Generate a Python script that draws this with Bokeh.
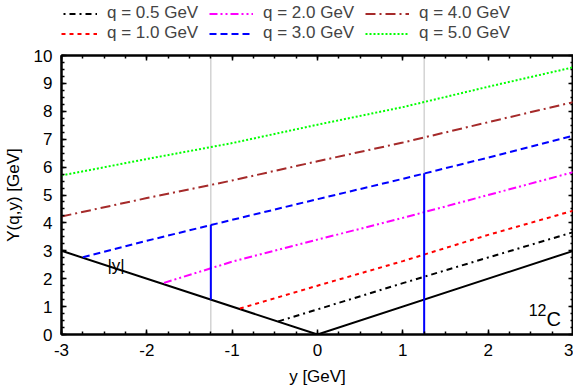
from bokeh.plotting import figure
from bokeh.layouts import column
from bokeh.models import (Legend, LegendItem, LinearAxis, SingleIntervalTicker, Span, PrintfTickFormatter, Range1d)
from bokeh.core.properties import value
from bokeh.embed import file_html
from bokeh.resources import INLINE

# ---------------- data ----------------
q_labels = ["q = 0.5 GeV", "q = 1.0 GeV", "q = 2.0 GeV", "q = 3.0 GeV", "q = 4.0 GeV", "q = 5.0 GeV"]

y_q05 = [-0.46, 0.0, 1.0, 2.0, 3.0]
Y_q05 = [0.47, 0.90, 1.84, 2.76, 3.67]

y_q10 = [-0.91, 0.0, 1.0, 2.0, 3.0]
Y_q10 = [0.93, 1.75, 2.63, 3.57, 4.44]

y_q20 = [-1.8, -1.0, 0.0, 1.0, 2.0, 3.0]
Y_q20 = [1.85, 2.61, 3.40, 4.18, 5.00, 5.82]

y_q30 = [-2.75, -2.0, -1.0, 0.0, 1.0, 2.0, 3.0]
Y_q30 = [2.77, 3.36, 4.11, 4.85, 5.58, 6.34, 7.13]

y_q40 = [-3.0, -2.0, -1.0, 0.0, 1.0, 2.0, 3.0]
Y_q40 = [4.23, 4.89, 5.52, 6.21, 6.88, 7.61, 8.33]

y_q50 = [-3.0, -2.0, -1.0, 0.0, 1.0, 2.0, 3.0]
Y_q50 = [5.70, 6.29, 6.86, 7.52, 8.15, 8.88, 9.58]

abs_y = [-3.0, 0.0, 3.0]
abs_Y = [3.0, 0.0, 3.0]

marker_y = [-1.25, 1.25]
bar_y = [-1.25, 1.25]
bar_Y0 = [1.25, 0.0]
bar_Y1 = [3.93, 5.78]

# ---------------- styling ----------------
FONT = "Liberation Sans"
FS = "17px"
colors = ["black", "#ff0000", "#ff00ff", "#0000ff", "#a52a2a", "#00ff00"]
dashes = ["6 4 2 4", "4 4", "8 3 2 3 2 3", "7 4", "10 4 2 4", "2 2"]

p = figure(width=573, height=342, x_range=(-3, 3), y_range=(0, 10),
           output_backend="svg", toolbar_location=None,
           min_border_left=54, min_border_right=0, min_border_top=9, min_border_bottom=54)
p.grid.visible = False
p.outline_line_color = "black"
p.outline_line_width = 2

for ax in (p.xaxis[0], p.yaxis[0]):
    ax.major_tick_in = 5
    ax.major_tick_out = 0
    ax.minor_tick_in = 3
    ax.minor_tick_out = 0
    ax.axis_line_width = 2
    ax.major_tick_line_width = 1.5
    ax.minor_tick_line_width = 1.5
    ax.major_label_text_font = FONT
    ax.major_label_text_font_size = FS
    ax.major_label_text_color = "black"
    ax.axis_label_text_font = FONT
    ax.axis_label_text_font_size = FS
    ax.axis_label_text_font_style = "normal"
    ax.axis_label_text_color = "black"
    ax.major_label_standoff = 9
    ax.formatter = PrintfTickFormatter(format="%d")

p.xaxis[0].ticker = SingleIntervalTicker(interval=1, num_minor_ticks=4)
p.yaxis[0].ticker = SingleIntervalTicker(interval=1, num_minor_ticks=4)
p.xaxis[0].axis_label = "y [GeV]"
p.yaxis[0].axis_label = "Y(q,y) [GeV]"
p.xaxis[0].axis_label_standoff = 8
p.yaxis[0].axis_label_standoff = 8

# mirrored tick marks on the top and right sides (no labels)
for loc in ("above", "right"):
    ax = LinearAxis(ticker=SingleIntervalTicker(interval=1, num_minor_ticks=4),
                    formatter=PrintfTickFormatter(format=""))
    ax.major_tick_in = 5
    ax.major_tick_out = 0
    ax.minor_tick_in = 3
    ax.minor_tick_out = 0
    ax.major_tick_line_width = 1.5
    ax.minor_tick_line_width = 1.5
    ax.axis_line_width = 2
    ax.major_label_text_font_size = "0px"
    ax.major_label_standoff = 0
    ax.axis_label_standoff = 0
    p.add_layout(ax, loc)

# light gray marker lines
for m in marker_y:
    p.add_layout(Span(location=m, dimension="height", line_color="#c8c8c8",
                      line_width=1.2, level="underlay"))

# |y| line
p.line(abs_y, abs_Y, line_color="black", line_width=2)

curves = [(y_q05, Y_q05), (y_q10, Y_q10), (y_q20, Y_q20),
          (y_q30, Y_q30), (y_q40, Y_q40), (y_q50, Y_q50)]
for (xs, ys), c, d in zip(curves, colors, dashes):
    p.line(xs, ys, line_color=c, line_width=2, line_dash=d)

# blue vertical bars
p.segment(x0=bar_y, y0=bar_Y0, x1=bar_y, y1=bar_Y1, line_color="#0000ff", line_width=2)

# texts
p.text(x=[-2.36], y=[2.47], text=["|y|"], text_font=value(FONT), text_font_size=FS,
       text_align="center", text_baseline="middle", text_color="black")
p.text(x=[2.683], y=[0.896], text=["12"], text_font=value(FONT), text_font_size="16px",
       text_align="right", text_baseline="alphabetic", text_color="black")
p.text(x=[2.683], y=[0.573], text=["C"], text_font=value(FONT), text_font_size="20px",
       text_align="left", text_baseline="alphabetic", text_color="black")

# ---------------- legend strip above the plot ----------------
# the same curves are drawn here outside the visible range; only the legend shows
pl = figure(width=573, height=46, output_backend="svg", toolbar_location=None,
            x_range=Range1d(50, 51), y_range=Range1d(50, 51),
            x_axis_type=None, y_axis_type=None,
            min_border_left=0, min_border_right=0, min_border_top=0, min_border_bottom=0)
pl.grid.visible = False
pl.outline_line_color = None
leg_renderers = [pl.line(xs, ys, line_color=c, line_width=2, line_dash=d)
                 for (xs, ys), c, d in zip(curves, colors, dashes)]

legend = Legend(items=[LegendItem(label=l, renderers=[r]) for l, r in zip(q_labels, leg_renderers)],
                location=(-8, 3), orientation="vertical", nrows=2,
                label_text_font=FONT, label_text_font_size=FS,
                label_height=15, glyph_height=15, glyph_width=44,
                label_standoff=10, label_width=102, spacing=0,
                padding=0, margin=0, border_line_alpha=0, background_fill_alpha=0)
pl.add_layout(legend, "center")

layout = column(pl, p, spacing=0)
open("out.html", "w").write(file_html(layout, INLINE))
